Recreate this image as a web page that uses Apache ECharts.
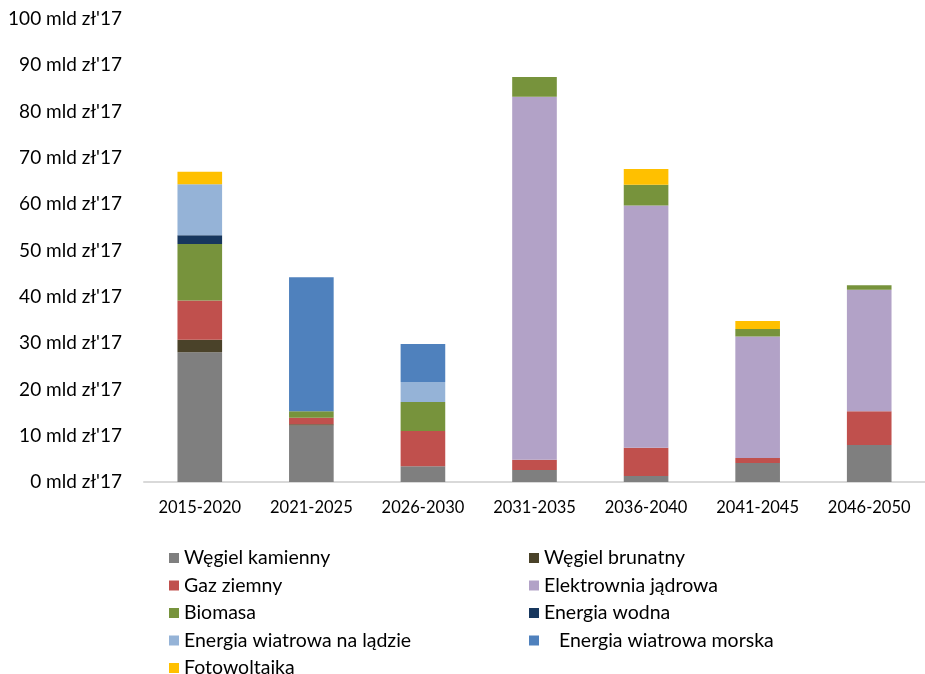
<!DOCTYPE html>
<html>
<head>
<meta charset="utf-8">
<script src="https://cdn.jsdelivr.net/npm/echarts@6/dist/echarts.min.js"></script>
<style>html,body{margin:0;padding:0;background:#fff;}#c{width:925px;height:674px;}</style>
</head>
<body>
<div id="c"></div>
<script>
const categories = ['2015-2020','2021-2025','2026-2030','2031-2035','2036-2040','2041-2045','2046-2050'];
const seriesNames = ['Węgiel kamienny','Węgiel brunatny','Gaz ziemny','Elektrownia jądrowa','Biomasa','Energia wodna','Energia wiatrowa na lądzie','   Energia wiatrowa morska','Fotowoltaika'];
const wegielKamienny = [28.0, 12.2, 3.4, 2.6, 1.3, 4.1, 8.0];
const wegielBrunatny = [2.7, 0.3, 0, 0, 0, 0, 0];
const gazZiemny = [8.5, 1.4, 7.6, 2.2, 6.1, 1.1, 7.3];
const elektrowniaJadrowa = [0, 0, 0, 78.4, 52.3, 26.2, 26.2];
const biomasa = [12.2, 1.4, 6.3, 4.3, 4.5, 1.65, 1.0];
const energiaWodna = [1.9, 0, 0, 0, 0, 0, 0];
const wiatrowaLad = [11.0, 0, 4.3, 0, 0, 0, 0];
const wiatrowaMorska = [0, 28.9, 8.2, 0, 0, 0, 0];
const fotowoltaika = [2.7, 0, 0, 0, 3.4, 1.7, 0];
const yTicks = {min: 0, max: 100, interval: 10, unit: " mld zł'17"};

const colors = ['#7f7f7f','#4a4229','#c0504d','#b2a2c7','#77933c','#17375e','#95b3d7','#4f81bd','#ffc000'];
const values = [wegielKamienny, wegielBrunatny, gazZiemny, elektrowniaJadrowa, biomasa, energiaWodna, wiatrowaLad, wiatrowaMorska, fotowoltaika];

const FONT = 'Lato';
const chart = echarts.init(document.getElementById('c'));
const series = seriesNames.map((n, i) => ({
  name: n, type: 'bar', stack: 'total', barWidth: '40%',
  itemStyle: {color: colors[i]},
  data: values[i].map(v => v === 0 ? '-' : v)
}));
const legendBase = {
  orient: 'vertical', icon: 'rect', itemWidth: 10, itemHeight: 10, itemGap: 7.5,
  height: 200,
  textStyle: {fontFamily: FONT, fontSize: 19.5, color: '#000', lineHeight: 20},
  selectedMode: false
};
chart.setOption({
  animation: false,
  color: colors,
  grid: {left: 144, top: 19, width: 793, bottom: 192, containLabel: false},
  xAxis: {
    type: 'category', data: categories,
    axisLine: {lineStyle: {color: '#d9d9d9', width: 2}},
    axisTick: {show: false},
    axisLabel: {fontFamily: FONT, fontSize: 16.5, color: '#000', margin: 17}
  },
  yAxis: {
    type: 'value', min: yTicks.min, max: yTicks.max, interval: yTicks.interval,
    axisLine: {show: false}, axisTick: {show: false}, splitLine: {show: false},
    axisLabel: {fontFamily: FONT, fontSize: 19, color: '#000', margin: 22,
      formatter: v => v + yTicks.unit}
  },
  legend: [
    Object.assign({}, legendBase, {left: 164, top: 543, data: seriesNames.filter((_, i) => i % 2 === 0)}),
    Object.assign({}, legendBase, {left: 524, top: 543, data: seriesNames.filter((_, i) => i % 2 === 1)})
  ],
  series: series
});
</script>
</body>
</html>
